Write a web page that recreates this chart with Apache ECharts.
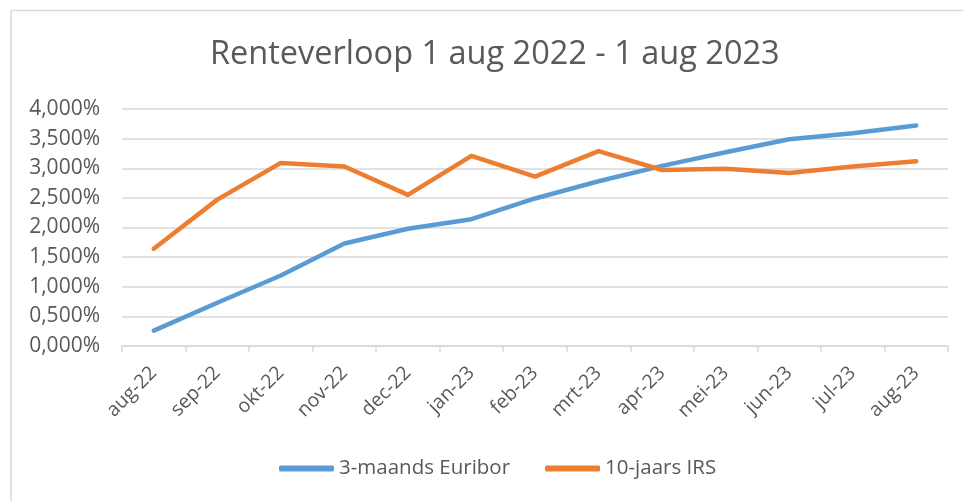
<!DOCTYPE html>
<html>
<head>
<meta charset="utf-8">
<script src="https://cdn.jsdelivr.net/npm/echarts@6/dist/echarts.min.js"></script>
<style>
  html, body { margin: 0; padding: 0; background: #fff; }
  #chart { width: 963px; height: 501px; }
</style>
</head>
<body>
<div id="chart"></div>
<script>
const months = ['aug-22', 'sep-22', 'okt-22', 'nov-22', 'dec-22', 'jan-23', 'feb-23',
  'mrt-23', 'apr-23', 'mei-23', 'jun-23', 'jul-23', 'aug-23']
const euribor3m = [0.26, 0.73, 1.19, 1.73, 1.98, 2.14, 2.49, 2.78, 3.04, 3.27, 3.49, 3.59, 3.72]
const irs10y = [1.64, 2.47, 3.09, 3.03, 2.55, 3.21, 2.86, 3.29, 2.97, 2.99, 2.92, 3.03, 3.12]
const yTicks = { min: 0, max: 4, interval: 0.5 }

const grey = '#595959'
const font = '"Open Sans", sans-serif'

const chart = echarts.init(document.getElementById('chart'), null, { renderer: 'canvas' })

const fmt = v => v.toFixed(3).replace('.', ',') + '%'

chart.setOption({
  animation: false,
  backgroundColor: '#fff',
  title: {
    text: 'Renteverloop 1 aug 2022 - 1 aug 2023',
    left: 205,
    top: 33,
    textStyle: { fontFamily: font, fontSize: 32.5, fontWeight: 'normal', color: grey }
  },
  // light frame round the chart, like the original sheet object
  graphic: [
    { type: 'line', shape: { x1: 11, y1: 10.5, x2: 963, y2: 10.5 }, style: { stroke: '#d9d9d9', lineWidth: 1.5 } },
    { type: 'line', shape: { x1: 11, y1: 10.5, x2: 11, y2: 501 }, style: { stroke: '#d9d9d9', lineWidth: 1.5 } }
  ],
  legend: {
    bottom: 17,
    left: 274,
    itemWidth: 55,
    itemHeight: 6,
    itemGap: 35,
    icon: 'roundRect',
    textStyle: { fontFamily: font, fontSize: 20.5, color: grey },
    data: ['3-maands Euribor', '10-jaars IRS']
  },
  grid: { left: 122, right: 15, top: 109, bottom: 155 },
  xAxis: {
    type: 'category',
    data: months,
    boundaryGap: true,
    axisLine: { lineStyle: { color: '#d9d9d9', width: 1.5 } },
    axisTick: { show: true, length: 6, lineStyle: { color: '#d9d9d9', width: 1.5 } },
    axisLabel: { rotate: 45, color: grey, fontFamily: font, fontSize: 19.5, margin: 24, interval: 0 }
  },
  yAxis: {
    type: 'value',
    min: yTicks.min,
    max: yTicks.max,
    interval: yTicks.interval,
    axisLine: { show: false },
    axisTick: { show: false },
    splitLine: { lineStyle: { color: '#d9d9d9', width: 1.5 } },
    axisLabel: { formatter: fmt, color: grey, fontFamily: font, fontSize: 21, margin: 22 }
  },
  series: [
    {
      name: '3-maands Euribor',
      type: 'line',
      data: euribor3m,
      symbol: 'none',
      color: '#5b9bd5',
      lineStyle: { width: 4.5, cap: 'round', join: 'round' }
    },
    {
      name: '10-jaars IRS',
      type: 'line',
      data: irs10y,
      symbol: 'none',
      color: '#ed7d31',
      lineStyle: { width: 4.5, cap: 'round', join: 'round' }
    }
  ]
})
</script>
</body>
</html>
